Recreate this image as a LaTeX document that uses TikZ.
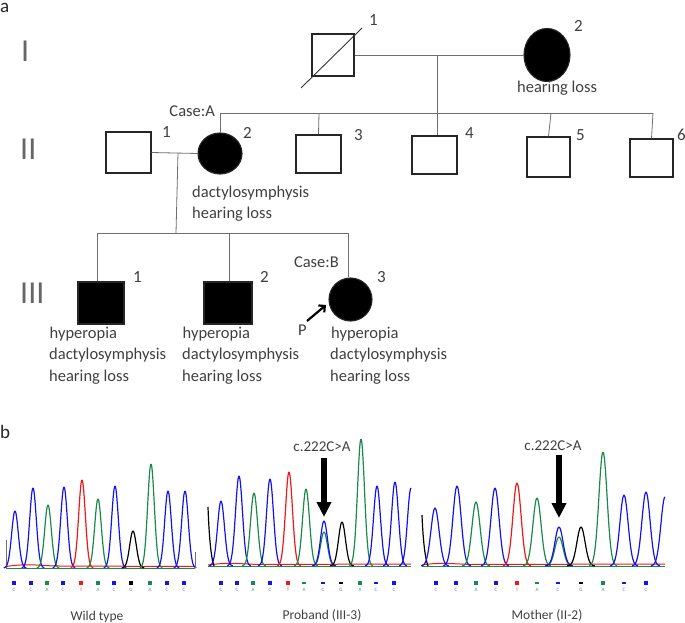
\documentclass[tikz,border=0pt]{standalone}
\usepackage{fontspec}
\setmainfont{Carlito}
\usetikzlibrary{shapes.geometric,arrows.meta}
\definecolor{txt}{HTML}{404040}
\definecolor{ln}{HTML}{6E6E6E}
\definecolor{cB}{HTML}{1414E6}
\definecolor{cG}{HTML}{1A8A4A}
\definecolor{cR}{HTML}{F01818}
\definecolor{cK}{HTML}{000000}
\definecolor{lB}{HTML}{6A6AF0}
\definecolor{lG}{HTML}{4A9A6A}
\definecolor{lR}{HTML}{E05050}
\definecolor{lK}{HTML}{707070}
\tikzset{
  sq/.style={draw=black!85, line width=1.1pt, inner sep=0pt, minimum width=44pt, minimum height=40pt},
  fem/.style={ellipse, draw=black!85, line width=1.1pt, inner sep=0pt},
  aff/.style={fill=black},
  conn/.style={draw=ln, line width=0.8pt},
  lab/.style={text=txt, font=\fontsize{16.5}{20}\selectfont, inner sep=0pt, anchor=base west},
  labr/.style={lab, anchor=base east},
  num/.style={text=txt, font=\fontsize{17}{20}\selectfont, inner sep=0pt, anchor=base west},
  gen/.style={text=black!60, font=\fontsize{32}{32}\selectfont, inner sep=0pt, anchor=base west},
  panel/.style={text=black!85, font=\fontsize{19}{20}\selectfont, inner sep=0pt, anchor=base west},
  trace/.style={line width=1.2pt, line join=round},
  mut/.style={text=txt, font=\fontsize{15}{16}\selectfont, inner sep=0pt, anchor=base},
  captxt/.style={text=txt, font=\fontsize{13.5}{15}\selectfont, inner sep=0pt, anchor=base},
  basel/.style={font=\fontsize{5}{5}\selectfont, inner sep=0pt},
  bigarrow/.style={line width=5.5pt, -{Triangle[width=14pt,length=15pt]}},
}
\newcommand{\chrom}[3]{%
  \foreach \xx/\yt/\pcol in {#3} {%
    \pgfmathsetmacro\pa{\xx-2.4*#2}%
    \pgfmathsetmacro\pb{\xx+2.4*#2}%
    \draw[\pcol, trace] plot[domain=\pa:\pb, samples=40, smooth] (\x, {#1-(#1-\yt)*exp(-((\x-\xx)/#2)^2)});
  }}
\newcommand{\halfpk}[5]{% base sigma x top color : left half only
  \pgfmathsetmacro\pa{#3-2.4*#2}%
  \draw[#5, trace] plot[domain=\pa:#3, samples=25, smooth] (\x, {#1-(#1-#4)*exp(-((\x-#3)/#2)^2)});}
\begin{document}
\begin{tikzpicture}[x=1pt,y=-1pt]
\useasboundingbox (0,0) rectangle (685,623);
\fill[white] (0,0) rectangle (685,623);

% ---------- panel a ----------
\node[panel] (pa) at (0,13) {a};
\node[gen] (g1) at (21,62) {I};
\node[gen] (g2) at (20,160) {II};
\node[gen] (g3) at (20,303) {III};

% generation I
\node[sq, minimum width=42pt, minimum height=42pt] (I1) at (333,55) {};
\node[fem, aff, minimum width=46pt, minimum height=53pt] (I2) at (547,55) {};
\coordinate (dA) at (301,88);
\coordinate (dB) at (362,28);
\draw[black!80, line width=0.9pt] (dA) -- (dB);
\node[num] (n11) at (369,26) {1};
\node[num] (n12) at (574,32) {2};
\node[lab] (t12) at (517,93) {hearing loss};
\draw[conn] (I1.east) -- (I2.west);
\coordinate (m1) at (437,55);
\coordinate (s1) at (437,113);
\coordinate (s1L) at (220,113);
\coordinate (s1R) at (653,113);
\coordinate (s15) at (551,113);
\coordinate (s13) at (319,113);
\draw[conn] (m1) -- (s1);
\draw[conn] (s1L) -- (s1R);
\node[labr] (caseA) at (215,117) {Case:A};

% generation II
\node[sq, minimum width=45pt, minimum height=41pt] (II1) at (128.5,152.5) {};
\node[fem, aff, minimum width=44pt, minimum height=41pt] (II2) at (220,153.5) {};
\node[sq, minimum width=45pt, minimum height=38pt] (II3) at (318.5,154) {};
\node[sq, minimum width=45pt, minimum height=38pt] (II4) at (434.5,155) {};
\node[sq, minimum width=43pt, minimum height=40pt] (II5) at (548.5,157) {};
\node[sq, minimum width=43pt, minimum height=38pt] (II6) at (651.5,158) {};
\draw[conn] (s1L) -- (II2.north);
\draw[conn] (s13) -- (II3.north);
\draw[conn] (s1) -- (s1 |- II4.north);
\draw[conn] (s15) -- (II5.north);
\draw[conn] (s1R) -- (II6.north);
\node[num] (n21) at (162,137) {1};
\node[num] (n22) at (243,139) {2};
\node[num] (n23) at (354,140) {3};
\node[num] (n24) at (465,139) {4};
\node[num] (n25) at (576,140) {5};
\node[num] (n26) at (677,140) {6};
\node[lab] (t22a) at (192,197) {dactylosymphysis};
\node[lab] (t22b) at (192,218.5) {hearing loss};
\draw[conn] (II1.east) -- (II2.west);
\coordinate (m2) at (178,153);
\coordinate (s2) at (176,233);
\coordinate (s2L) at (97,233);
\coordinate (s2M) at (229,233);
\coordinate (s2R) at (348,233);
\draw[conn] (m2) -- (s2);
\draw[conn] (s2L) -- (s2R);
\node[labr] (caseB) at (339,267) {Case:B};

% generation III
\node[sq, aff, minimum width=46pt, minimum height=42pt] (III1) at (101,303) {};
\node[sq, aff, minimum width=48pt, minimum height=42pt] (III2) at (228,303) {};
\node[fem, aff, minimum width=43pt, minimum height=43pt] (III3) at (350.5,299.5) {};
\draw[conn] (s2L) -- (s2L |- III1.north);
\draw[conn] (s2M) -- (s2M |- III2.north);
\draw[conn] (s2R) -- (s2R |- III3.north);
\node[num] (n31) at (133,282) {1};
\node[num] (n32) at (260,282) {2};
\node[num] (n33) at (377,282) {3};
\coordinate (pr1) at (307,321);
\coordinate (pr2) at (326,305);
\draw[black, line width=2.2pt, -{Straight Barb[length=4.5pt,width=9pt]}] (pr1) -- (pr2);
\node[lab] (P) at (298,335) {P};
\node[lab] (t31a) at (49.5,338) {hyperopia};
\node[lab] (t31b) at (49,359.5) {dactylosymphysis};
\node[lab] (t31c) at (49,381) {hearing loss};
\node[lab] (t32a) at (182.5,338) {hyperopia};
\node[lab] (t32b) at (182,359.5) {dactylosymphysis};
\node[lab] (t32c) at (182,381) {hearing loss};
\node[lab] (t33a) at (331,338) {hyperopia};
\node[lab] (t33b) at (330,359.5) {dactylosymphysis};
\node[lab] (t33c) at (330,381) {hearing loss};

% ---------- panel b ----------
\node[panel] (pb) at (0,438) {b};

% Wild type
\draw[lK, line width=1pt] (6,540) -- (6,568);
\draw[cG, line width=1pt] (6,568) -- (195,568);
\draw[cR, line width=1pt] (6,566.5) .. controls (30,563) and (40,566) .. (60,566) -- (195,566.5);
\chrom{568}{4.7}{15/511/cB, 33/488/cB, 48/505/cG, 64/487/cB, 82/480/cR, 98/499/cG, 115/486/cB, 133/531/cK, 151/464/cG, 168/491/cB, 185/491/cB}
\draw[lK, line width=0.8pt] (195,552) -- (195,568);

% Proband
\draw[cG, line width=1pt] (208,566) -- (411,566);
\draw[cR, line width=1pt] (208,565) .. controls (230,562) and (240,564) .. (260,564.5) -- (411,564);
\draw[cK, trace] (208,507) .. controls (209,535) and (211,558) .. (214,566);
\chrom{566}{4.9}{221/501/cB, 239/476/cB, 254/493/cG, 270/479/cB, 289/472/cR, 306/489/cG, 324/532/cG, 324/521/cB, 342/522/cK, 361/439/cG, 377/486/cB, 395/482/cB}
\halfpk{566}{4.9}{411}{488}{cB}

% Mother
\draw[cG, line width=1pt] (422,566) -- (665,566);
\draw[cR, line width=1pt] (422,565) .. controls (440,562) and (455,564) .. (470,564.5) -- (665,564);
\draw[cK, trace] (422,515) .. controls (423,540) and (425,558) .. (428,566);
\chrom{566}{5.8}{435/508/cB, 457/486/cB, 476/502/cG, 495/488/cB, 517/483/cR, 537/498/cG, 559/537/cG, 559/527/cB, 581/527/cK, 603/452/cG, 624/495/cB, 646/492/cB}
\halfpk{566}{5.8}{665}{497}{cB}

% base markers
\foreach \xx/\pcol/\lcol/\ll [count=\i] in {14/cB/lB/C, 31/cB/lB/C, 47/cG/lG/A, 63/cB/lB/C, 81/cR/lR/T, 98/cG/lG/A, 114/cB/lB/C, 131/cK/lK/G, 150/cG/lG/A, 167/cB/lB/C, 184/cB/lB/C} {
  \fill[\pcol] (\xx-1.8,581) rectangle (\xx+1.8,585);
  \node[basel, text=\lcol] (wb\i) at (\xx,590) {\ll};
}
\foreach \xx/\pcol/\lcol/\ll/\hh [count=\i] in {221/cB/lB/C/2.2, 237/cB/lB/C/2.2, 253/cG/lG/A/2.2, 270/cB/lB/C/1.6, 288/cR/lR/T/1.6, 304/cG/lG/A/1.2, 323/cB/lB/C/0.8, 341/cK/lK/G/0.8, 360/cG/lG/A/1.6, 376/cB/lB/C/1.4, 394/cB/lB/C/2.2} {
  \fill[\pcol] (\xx-1.8,583-\hh) rectangle (\xx+1.8,583+\hh);
  \node[basel, text=\lcol] (pbm\i) at (\xx,590) {\ll};
}
\foreach \xx/\pcol/\lcol/\ll/\hh [count=\i] in {436/cB/lB/C/2.2, 456/cB/lB/C/2.2, 476/cG/lG/A/2.2, 496/cB/lB/C/1.6, 517/cR/lR/T/1.6, 537/cG/lG/A/1.2, 558/cB/lB/C/0.8, 581/cK/lK/G/0.8, 603/cG/lG/A/1.6, 624/cB/lB/C/1.4, 646/cB/lB/C/2.2} {
  \fill[\pcol] (\xx-1.8,583-\hh) rectangle (\xx+1.8,583+\hh);
  \node[basel, text=\lcol] (mbm\i) at (\xx,590) {\ll};
}

% mutation arrows and labels
\node[mut] (mutP) at (322,451) {c.222C>A};
\node[mut] (mutM) at (553,450) {c.222C>A};
\coordinate (pA1) at (324,458);
\coordinate (pA2) at (324,517);
\coordinate (mA1) at (559,455);
\coordinate (mA2) at (559,518);
\draw[bigarrow] (pA1) -- (pA2);
\draw[bigarrow] (mA1) -- (mA2);

\node[captxt] (capW) at (97,620) {Wild type};
\node[captxt] (capP) at (322,619) {Proband (III-3)};
\node[captxt] (capM) at (547,619) {Mother (II-2)};
\end{tikzpicture}
\end{document}
